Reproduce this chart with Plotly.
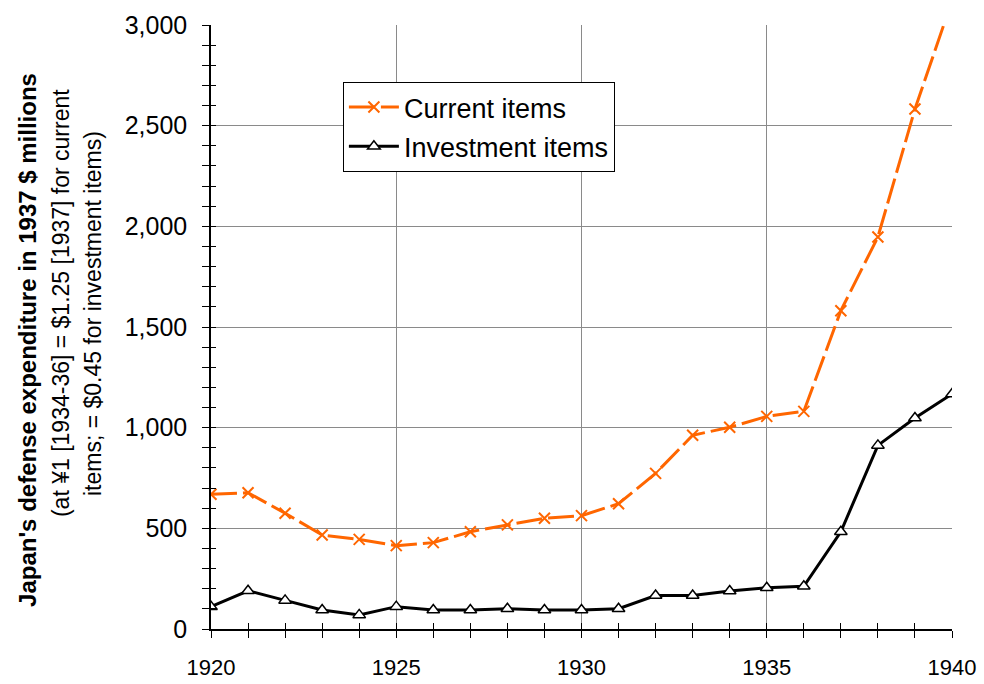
import plotly.graph_objects as go

years = list(range(1920, 1941))
current_items = [669, 677, 575, 467, 445, 414, 429, 483, 517, 550, 563, 622,
                 773, 962, 1002, 1056, 1081, 1581, 1947, 2583, 3120]
investment_items = [111, 190, 142, 94, 70, 111, 94, 94, 101, 94, 94, 101,
                    166, 166, 189, 205, 212, 483, 912, 1048, 1167]

title_lines = [
    "<b>Japan's defense expenditure in 1937 $ millions</b>",
    "(at ¥1 [1934-36] = $1.25 [1937] for current",
    "items; = $0.45 for investment items)",
]

ORANGE = "#FF6600"
GRID = "#8a8a8a"
SANS = "Liberation Sans, Arial, sans-serif"

fig = go.Figure()
fig.add_trace(go.Scatter(
    x=years, y=current_items, name="Current items", mode="lines+markers",
    line=dict(color=ORANGE, width=3, dash="26px,6px"),
    marker=dict(symbol="x-thin-open", size=11, line=dict(color=ORANGE, width=2), color=ORANGE),
    legendgroup="a",
))
fig.add_trace(go.Scatter(
    x=years, y=investment_items, name="Investment items", mode="lines+markers",
    line=dict(color="black", width=3),
    marker=dict(symbol="triangle-up", size=11, color="white", line=dict(color="black", width=1.5)),
    legendgroup="b",
))
# invisible trace carrying the overlay axes (for ticks crossing the axis lines)
fig.add_trace(go.Scatter(
    x=years, y=investment_items, xaxis="x2", yaxis="y2", mode="markers",
    marker=dict(opacity=0), showlegend=False, hoverinfo="skip",
))

fig.update_layout(
    width=984, height=684,
    margin=dict(l=211, r=32, t=25, b=55, autoexpand=False),
    paper_bgcolor="white", plot_bgcolor="white",
    font=dict(family=SANS, color="black"),
    showlegend=True,
    legend=dict(
        x=0.178, y=0.9056, xanchor="left", yanchor="top",
        bgcolor="white", bordercolor="black", borderwidth=1,
        font=dict(size=27, family=SANS),
        tracegroupgap=1, traceorder="grouped", itemwidth=50,
    ),
    xaxis=dict(
        range=[1920, 1940], dtick=5, tick0=1920, automargin=False,
        showgrid=True, gridcolor=GRID, gridwidth=1,
        showline=True, linecolor="black", linewidth=1.5,
        ticks="outside", ticklen=7, tickcolor="black", tickwidth=1,
        minor=dict(dtick=1, ticks="outside", ticklen=7, tickcolor="black", showgrid=False),
        tickfont=dict(size=22, family=SANS),
        ticklabelstandoff=11,
        zeroline=False,
    ),
    yaxis=dict(
        range=[0, 3000], dtick=500, tickformat=",", automargin=False,
        showgrid=True, gridcolor=GRID, gridwidth=1,
        showline=True, linecolor="black", linewidth=1.5,
        ticks="outside", ticklen=7, tickcolor="black", tickwidth=1,
        minor=dict(dtick=100, ticks="outside", ticklen=7, tickcolor="black", showgrid=False),
        tickfont=dict(size=25, family=SANS),
        ticklabelstandoff=10,
        zeroline=False,
    ),
    xaxis2=dict(
        overlaying="x", anchor="y", range=[1920, 1940], dtick=5, automargin=False,
        showgrid=False, showline=False, showticklabels=False, zeroline=False,
        ticks="inside", ticklen=6, tickcolor="black",
        minor=dict(dtick=1, ticks="inside", ticklen=6, tickcolor="black", showgrid=False),
    ),
    yaxis2=dict(
        overlaying="y", anchor="x", range=[0, 3000], dtick=500, automargin=False,
        showgrid=False, showline=False, showticklabels=False, zeroline=False,
        ticks="inside", ticklen=5, tickcolor="black",
        minor=dict(dtick=100, ticks="inside", ticklen=5, tickcolor="black", showgrid=False),
    ),
)

ann_specs = [(-0.247, 0.4785, 24), (-0.2024, 0.5397, 23), (-0.1592, 0.5215, 23)]
for text, (px, py, fs) in zip(title_lines, ann_specs):
    fig.add_annotation(
        text=text, xref="paper", yref="paper", x=px, y=py,
        xanchor="center", yanchor="middle", textangle=-90, showarrow=False,
        font=dict(size=fs, family=SANS, color="black"),
    )

fig.write_html("out.html", config={"displayModeBar": False},
               post_script="document.body.style.margin='0';")
